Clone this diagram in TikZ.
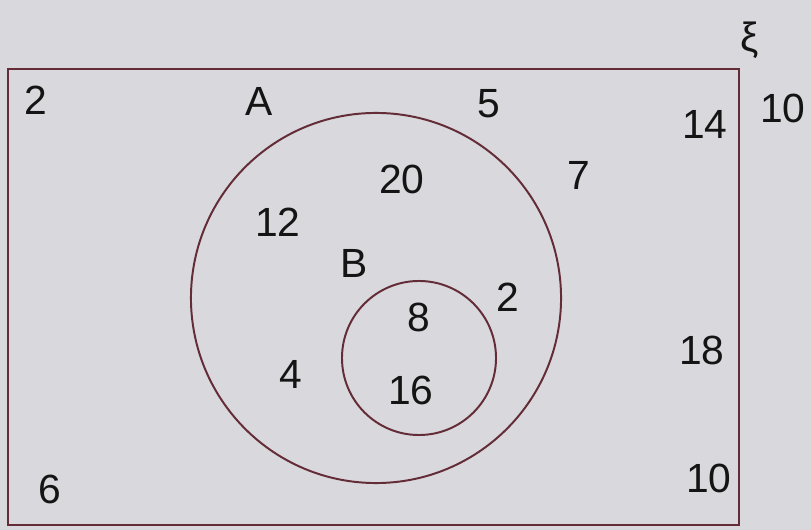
\documentclass[tikz,border=0pt]{standalone}
\usepackage{fontspec}
\setmainfont{Liberation Sans}
\definecolor{cpaper}{HTML}{D8D8DD}
\definecolor{cline}{HTML}{642C36}
\definecolor{cink}{HTML}{141414}
\tikzset{
  every picture/.style={line width=1.4pt},
  setbox/.style={draw=cline, inner sep=0pt, minimum width=18.275cm, minimum height=11.4cm},
  setring/.style={draw=cline, circle, inner sep=0pt, minimum size=#1},
  num/.style={text=cink, inner sep=0pt, font=\fontsize{29}{31}\selectfont},
}

\begin{document}
\begin{tikzpicture}[x=0.025cm, y=-0.025cm]
  % paper
  \fill[cpaper] (0,0) rectangle (811,530);
  % universal set and the two circles
  \node[setbox] (xi) at (373.5,297) {};
  \node[setring=9.25cm] (A) at (376,298) {};
  \node[setring=3.85cm] (B) at (419,358) {};
  % set names
  \node[num] (nxi) at (750,40) {ξ};
  \node[num] (nA) at (259,101) {A};
  \node[num] (nB) at (354,263) {B};
  % outside A
  \node[num] (o1) at (36,100) {2};
  \node[num] (o2) at (489,104) {5};
  \node[num] (o3) at (705,124) {14};
  \node[num] (o4) at (579,175) {7};
  \node[num] (o5) at (702,350) {18};
  \node[num] (o6) at (50,489) {6};
  \node[num] (o7) at (709,478) {10};
  % in A, not in B
  \node[num] (a1) at (402,179) {20};
  \node[num] (a2) at (278,222) {12};
  \node[num] (a3) at (508,297) {2};
  \node[num] (a4) at (291,374) {4};
  % in B
  \node[num] (b1) at (419,317) {8};
  \node[num] (b2) at (411,390) {16};
  % outside the box
  \node[num] (e1) at (783,108) {10};
\end{tikzpicture}
\end{document}
